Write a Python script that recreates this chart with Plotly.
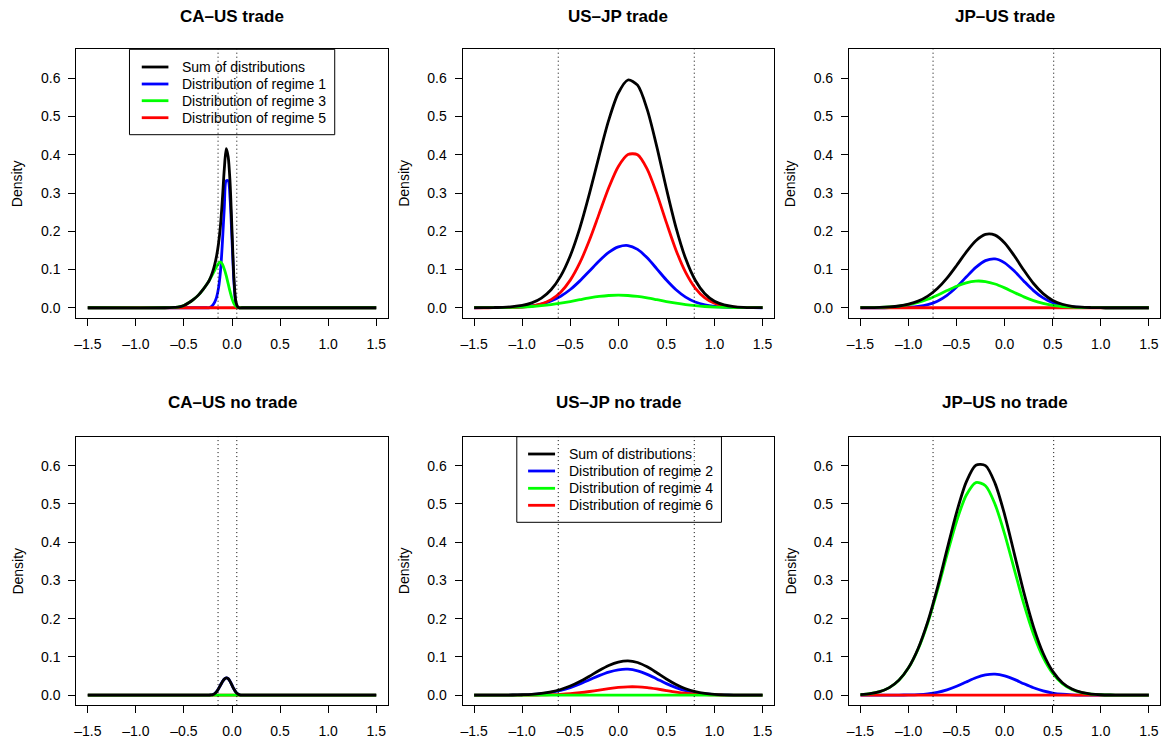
import plotly.graph_objects as go

W, H = 1161, 740
FONT = "Liberation Sans"

# ---------------- data ----------------
X_GRID = [-1.5, -1.4, -1.3, -1.2, -1.1, -1.0, -0.9, -0.8, -0.7, -0.6, -0.5, -0.4, -0.3, -0.2, -0.1,
          0.0, 0.1, 0.2, 0.3, 0.4, 0.5, 0.6, 0.7, 0.8, 0.9, 1.0, 1.1, 1.2, 1.3, 1.4, 1.5]
ZEROS31 = [0.0] * 31

# CA-US trade
x_caus_trade = [-1.5, -0.7, -0.6, -0.55, -0.5, -0.45, -0.4, -0.35, -0.3, -0.26, -0.24, -0.22, -0.2, -0.18,
                -0.16, -0.14, -0.12, -0.1, -0.08, -0.06, -0.04, -0.02, 0.0, 0.02, 0.04, 0.06, 0.08, 0.1, 0.14, 1.5]
caus_trade_regime1 = [0, 0, 0, 0, 0, 0, 0, 0, 0, 0, 0, 0.002, 0.007, 0.015, 0.028, 0.052, 0.095, 0.170,
                      0.262, 0.332, 0.332, 0.285, 0.178, 0.068, 0.012, 0.001, 0, 0, 0, 0]
caus_trade_regime3 = [0, 0, 0.001, 0.002, 0.006, 0.013, 0.022, 0.033, 0.048, 0.062, 0.070, 0.079, 0.088,
                      0.098, 0.108, 0.116, 0.120, 0.114, 0.101, 0.084, 0.063, 0.042, 0.024, 0.011, 0.004,
                      0.001, 0, 0, 0, 0]
caus_trade_regime5 = [0.0] * 30
caus_trade_sum = [0, 0, 0.001, 0.002, 0.006, 0.013, 0.022, 0.033, 0.048, 0.062, 0.070, 0.081, 0.095, 0.113,
                  0.136, 0.168, 0.215, 0.284, 0.363, 0.416, 0.395, 0.327, 0.202, 0.079, 0.016, 0.002,
                  0, 0, 0, 0]

# US-JP trade
usjp_trade_regime1 = [0.0000, 0.0001, 0.0002, 0.0004, 0.0010, 0.0023, 0.0049, 0.0096, 0.0177, 0.0301,
                      0.0477, 0.0703, 0.0962, 0.1224, 0.1448, 0.1592, 0.1627, 0.1526, 0.1305, 0.1019,
                      0.0725, 0.0471, 0.0279, 0.0151, 0.0074, 0.0033, 0.0014, 0.0005, 0.0002, 0.0001, 0.0000]
usjp_trade_regime3 = [0.0001, 0.0001, 0.0003, 0.0006, 0.0011, 0.0019, 0.0033, 0.0054, 0.0082, 0.0119,
                      0.0162, 0.0210, 0.0256, 0.0295, 0.0321, 0.0330, 0.0321, 0.0295, 0.0256, 0.0210,
                      0.0162, 0.0119, 0.0082, 0.0054, 0.0033, 0.0019, 0.0011, 0.0006, 0.0003, 0.0001, 0.0001]
usjp_trade_regime5 = [0.0000, 0.0000, 0.0001, 0.0002, 0.0007, 0.0018, 0.0045, 0.0102, 0.0212, 0.0408,
                      0.0722, 0.1178, 0.1772, 0.2456, 0.3138, 0.3695, 0.4009, 0.4001, 0.3628, 0.2985,
                      0.2227, 0.1507, 0.0925, 0.0515, 0.0260, 0.0119, 0.0049, 0.0019, 0.0006, 0.0002, 0.0001]
usjp_trade_sum = [0.0001, 0.0002, 0.0006, 0.0012, 0.0028, 0.0060, 0.0127, 0.0252, 0.0471, 0.0828,
                  0.1361, 0.2091, 0.2990, 0.3975, 0.4907, 0.5617, 0.5957, 0.5822, 0.5189, 0.4214,
                  0.3114, 0.2097, 0.1286, 0.0720, 0.0367, 0.0171, 0.0074, 0.0030, 0.0011, 0.0004, 0.0002]

# JP-US trade
jpus_trade_regime1 = [0.0, 0.0, 0.0, 0.0001, 0.0004, 0.0013, 0.0034, 0.0082, 0.0173, 0.0325, 0.0542,
                      0.0803, 0.1056, 0.1232, 0.1277, 0.1175, 0.0960, 0.0696, 0.0448, 0.0257, 0.0130,
                      0.0059, 0.0024, 0.0008, 0.0003, 0.0001, 0, 0, 0, 0, 0]
jpus_trade_regime3 = [0.0001, 0.0004, 0.0009, 0.0021, 0.0042, 0.0080, 0.0139, 0.0222, 0.0329, 0.0449,
                      0.0564, 0.0653, 0.0697, 0.0686, 0.0622, 0.0520, 0.0400, 0.0284, 0.0186, 0.0112,
                      0.0062, 0.0032, 0.0015, 0.0007, 0.0003, 0.0001, 0, 0, 0, 0, 0]
jpus_trade_regime5 = ZEROS31
jpus_trade_sum = [0.0001, 0.0004, 0.0009, 0.0022, 0.0046, 0.0093, 0.0173, 0.0304, 0.0502, 0.0774,
                  0.1106, 0.1456, 0.1753, 0.1918, 0.1899, 0.1695, 0.1360, 0.0980, 0.0634, 0.0369,
                  0.0192, 0.0091, 0.0039, 0.0015, 0.0006, 0.0002, 0, 0, 0, 0, 0]

# CA-US no trade
x_caus_notrade = [-1.5, -0.3, -0.24, -0.22, -0.2, -0.18, -0.16, -0.14, -0.12, -0.1, -0.08, -0.06, -0.04,
                  -0.02, 0.0, 0.02, 0.04, 0.06, 0.08, 0.1, 0.16, 1.5]
caus_notrade_regime2 = [0, 0, 0, 0.0005, 0.0015, 0.004, 0.009, 0.017, 0.026, 0.035, 0.042, 0.045, 0.043,
                        0.036, 0.026, 0.016, 0.008, 0.003, 0.001, 0, 0, 0]
caus_notrade_regime4 = [0.0] * 22
caus_notrade_regime6 = [0.0] * 22
caus_notrade_sum = [0, 0, 0, 0.0005, 0.0015, 0.004, 0.009, 0.017, 0.026, 0.035, 0.042, 0.045, 0.043,
                    0.036, 0.026, 0.016, 0.008, 0.003, 0.001, 0, 0, 0]

# US-JP no trade
usjp_notrade_regime2 = [0, 0.0000, 0.0001, 0.0002, 0.0004, 0.0010, 0.0020, 0.0040, 0.0074, 0.0126, 0.0199,
                        0.0293, 0.0401, 0.0511, 0.0604, 0.0664, 0.0679, 0.0637, 0.0544, 0.0425, 0.0302,
                        0.0197, 0.0116, 0.0063, 0.0031, 0.0014, 0.0006, 0.0002, 0.0001, 0, 0]
usjp_notrade_regime4 = ZEROS31
usjp_notrade_regime6 = [0, 0, 0, 0, 0.0000, 0.0001, 0.0002, 0.0006, 0.0012, 0.0022, 0.0039, 0.0064,
                        0.0096, 0.0133, 0.0170, 0.0201, 0.0218, 0.0217, 0.0197, 0.0162, 0.0121, 0.0082,
                        0.0050, 0.0028, 0.0014, 0.0006, 0.0003, 0.0001, 0, 0, 0]
usjp_notrade_sum = [0, 0, 0.0001, 0.0002, 0.0004, 0.0011, 0.0022, 0.0046, 0.0086, 0.0148, 0.0238, 0.0357,
                    0.0497, 0.0644, 0.0774, 0.0865, 0.0897, 0.0854, 0.0741, 0.0587, 0.0423, 0.0279,
                    0.0166, 0.0091, 0.0045, 0.0020, 0.0009, 0.0003, 0.0001, 0, 0]

# JP-US no trade
jpus_notrade_regime2 = [0, 0, 0, 0, 0.0002, 0.0006, 0.0015, 0.0035, 0.0074, 0.0140, 0.0233, 0.0345,
                        0.0454, 0.0529, 0.0549, 0.0505, 0.0413, 0.0299, 0.0193, 0.0110, 0.0056, 0.0025,
                        0.0010, 0.0003, 0.0001, 0, 0, 0, 0, 0, 0]
jpus_notrade_regime4 = [0.0016, 0.0041, 0.0093, 0.0198, 0.0391, 0.0714, 0.1207, 0.1888, 0.2734, 0.3666,
                        0.4550, 0.5228, 0.5561, 0.5476, 0.4991, 0.4212, 0.3291, 0.2380, 0.1593, 0.0987,
                        0.0566, 0.0301, 0.0148, 0.0067, 0.0028, 0.0011, 0.0004, 0.0001, 0, 0, 0]
jpus_notrade_regime6 = ZEROS31
jpus_notrade_sum = [0.0016, 0.0041, 0.0093, 0.0198, 0.0393, 0.0720, 0.1222, 0.1923, 0.2808, 0.3806,
                    0.4783, 0.5573, 0.6015, 0.6005, 0.5540, 0.4717, 0.3704, 0.2679, 0.1786, 0.1097,
                    0.0622, 0.0326, 0.0158, 0.0070, 0.0029, 0.0011, 0.0004, 0.0001, 0, 0, 0]

# vertical dotted reference lines
caus_vlines = [-0.145, 0.05]
usjp_vlines = [-0.625, 0.79]
jpus_vlines = [-0.745, 0.51]

titles = ["CA\u2013US trade", "US\u2013JP trade", "JP\u2013US trade",
          "CA\u2013US no trade", "US\u2013JP no trade", "JP\u2013US no trade"]

x_ticks = [-1.5, -1.0, -0.5, 0.0, 0.5, 1.0, 1.5]
x_tick_labels = ["\u20131.5", "\u20131.0", "\u20130.5", "0.0", "0.5", "1.0", "1.5"]
y_ticks = [0.0, 0.1, 0.2, 0.3, 0.4, 0.5, 0.6]
y_tick_labels = ["0.0", "0.1", "0.2", "0.3", "0.4", "0.5", "0.6"]

legend_top_labels = ["Sum of distributions", "Distribution of regime 1",
                     "Distribution of regime 3", "Distribution of regime 5"]
legend_bottom_labels = ["Sum of distributions", "Distribution of regime 2",
                        "Distribution of regime 4", "Distribution of regime 6"]

BLACK, BLUE, GREEN, RED = "#000000", "#0000FF", "#00FF00", "#FF0000"

panels = [
    dict(x=x_caus_trade, blue=caus_trade_regime1, green=caus_trade_regime3, red=caus_trade_regime5,
         black=caus_trade_sum, vl=caus_vlines),
    dict(x=X_GRID, blue=usjp_trade_regime1, green=usjp_trade_regime3, red=usjp_trade_regime5,
         black=usjp_trade_sum, vl=usjp_vlines),
    dict(x=X_GRID, blue=jpus_trade_regime1, green=jpus_trade_regime3, red=jpus_trade_regime5,
         black=jpus_trade_sum, vl=jpus_vlines),
    dict(x=x_caus_notrade, blue=caus_notrade_regime2, green=caus_notrade_regime4, red=caus_notrade_regime6,
         black=caus_notrade_sum, vl=caus_vlines),
    dict(x=X_GRID, blue=usjp_notrade_regime2, green=usjp_notrade_regime4, red=usjp_notrade_regime6,
         black=usjp_notrade_sum, vl=usjp_vlines),
    dict(x=X_GRID, blue=jpus_notrade_regime2, green=jpus_notrade_regime4, red=jpus_notrade_regime6,
         black=jpus_notrade_sum, vl=jpus_vlines),
]

# ---------------- layout geometry (pixels) ----------------
col_px = [(74.4, 386.4), (461.4, 773.4), (848.4, 1160.4)]
row_px = [(49.3, 317.7), (436.7, 705.1)]
title_y_px = [16, 402]
ylab_x_px = [15.7, 403, 790]


def px_x(p):
    return p / W


def px_y(p):
    return 1 - p / H


fig = go.Figure()
layout = dict(
    width=W, height=H,
    margin=dict(l=0, r=0, t=0, b=0),
    paper_bgcolor="white", plot_bgcolor="rgba(0,0,0,0)",
    showlegend=False,
    font=dict(family=FONT, size=14, color="black"),
)
shapes = []
annotations = []

for i, p in enumerate(panels):
    r, c = divmod(i, 3)
    n = i + 1
    xa = "x" if n == 1 else f"x{n}"
    ya = "y" if n == 1 else f"y{n}"
    for key, col in (("blue", BLUE), ("red", RED), ("green", GREEN), ("black", BLACK)):
        fig.add_trace(go.Scatter(x=p["x"], y=p[key], mode="lines",
                                 line=dict(color=col, width=2.8, shape="spline", smoothing=0.8),
                                 xaxis=xa, yaxis=ya, hoverinfo="skip"))
    axis_common = dict(showgrid=False, zeroline=False, showline=True, mirror=True,
                       linecolor="black", linewidth=1, ticks="outside", ticklen=7,
                       tickwidth=1, tickcolor="black",
                       tickfont=dict(family=FONT, size=14, color="black"))
    layout["xaxis" if n == 1 else f"xaxis{n}"] = dict(
        axis_common, domain=[px_x(col_px[c][0]), px_x(col_px[c][1])],
        range=[-1.62, 1.62], anchor=ya, tickvals=x_ticks, ticktext=x_tick_labels,
        ticklabelstandoff=6)
    layout["yaxis" if n == 1 else f"yaxis{n}"] = dict(
        axis_common, domain=[px_y(row_px[r][1]), px_y(row_px[r][0])],
        range=[-0.026, 0.676], anchor=xa, tickvals=y_ticks, ticktext=y_tick_labels,
        ticklabelstandoff=5)
    for v in p["vl"]:
        shapes.append(dict(type="line", xref=xa, yref=f"{ya} domain", x0=v, x1=v, y0=0, y1=1,
                           line=dict(color="black", width=1, dash="1px,3px"), layer="above"))
    annotations.append(dict(text=f"<b>{titles[i]}</b>", xref="paper", yref="paper",
                            x=px_x((col_px[c][0] + col_px[c][1]) / 2), y=px_y(title_y_px[r]),
                            xanchor="center", yanchor="middle", showarrow=False,
                            font=dict(family=FONT, size=17, color="black")))
    annotations.append(dict(text="Density", xref="paper", yref="paper",
                            x=px_x(ylab_x_px[c]), y=px_y((row_px[r][0] + row_px[r][1]) / 2),
                            xanchor="center", yanchor="middle", textangle=-90, showarrow=False,
                            font=dict(family=FONT, size=14, color="black")))


def add_legend(box, line_x, text_x, rows, labels):
    shapes.insert(0, dict(type="rect", xref="paper", yref="paper",
                          x0=px_x(box[0]), x1=px_x(box[1]), y0=px_y(box[3]), y1=px_y(box[2]),
                          fillcolor="white", line=dict(color="black", width=1), layer="below"))
    for ry, lab, col in zip(rows, labels, (BLACK, BLUE, GREEN, RED)):
        shapes.insert(1, dict(type="line", xref="paper", yref="paper",
                              x0=px_x(line_x[0]), x1=px_x(line_x[1]), y0=px_y(ry), y1=px_y(ry),
                              line=dict(color=col, width=2.8), layer="below"))
        annotations.append(dict(text=lab, xref="paper", yref="paper", x=px_x(text_x), y=px_y(ry),
                                xanchor="left", yanchor="middle", showarrow=False,
                                font=dict(family=FONT, size=14, color="black")))


add_legend((127.7, 333.3, 49.3, 134.7), (140, 166.7), 178.5, [67, 84, 100.7, 117.7], legend_top_labels)
add_legend((515.7, 720.7, 436.7, 522.3), (527, 554), 566, [454, 471, 488.3, 505.3], legend_bottom_labels)

layout["shapes"] = shapes
layout["annotations"] = annotations
fig.update_layout(**layout)
fig.write_html("out.html")
